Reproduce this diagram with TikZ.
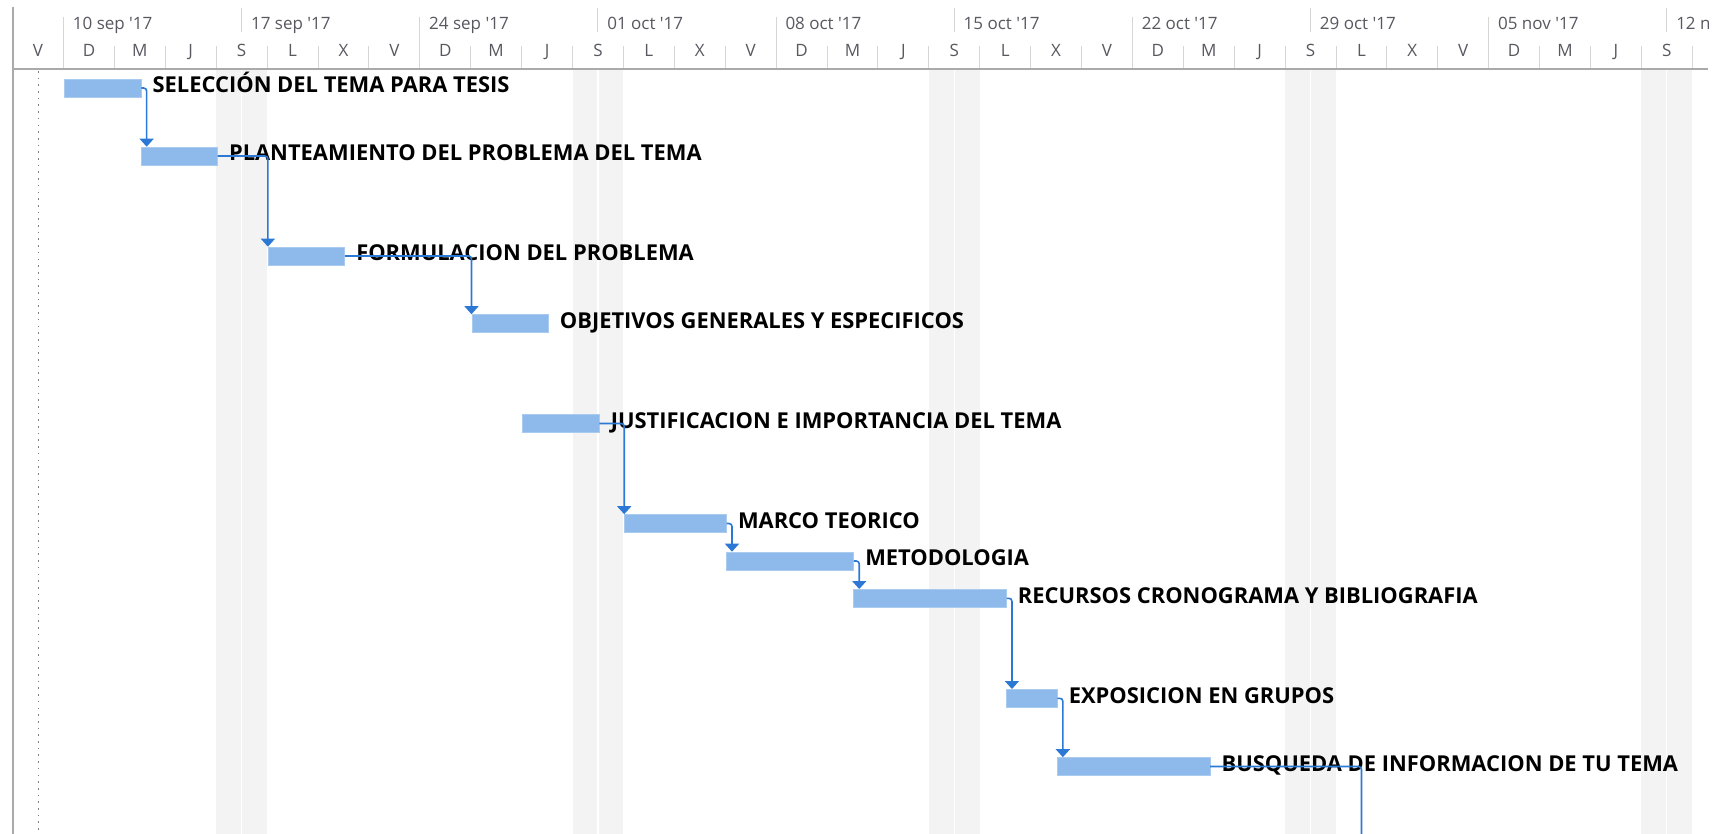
\documentclass[tikz,border=0pt]{standalone}
\usepackage{fontspec}
\usepackage{tikz}
\usepackage{xcolor}
\usetikzlibrary{math, arrows.meta}

\newfontfamily\ganttfont{Open Sans}

\definecolor{barblue}{RGB}{141,186,234}
\definecolor{linkblue}{RGB}{43,121,213}
\definecolor{gridgray}{RGB}{214,214,214}
\definecolor{framegray}{RGB}{170,170,170}
\definecolor{headgray}{RGB}{88,88,96}
\definecolor{shadegray}{RGB}{243,243,243}

\begin{document}
\begin{tikzpicture}[x=0.5pt, y=-0.5pt,
  bar/.style={fill=barblue, draw=barblue!75!white, line width=0.3pt, minimum height=9pt, inner sep=0pt, anchor=west},
  task/.style={font=\ganttfont\bfseries\fontsize{10.95}{12}\selectfont, text height=7.8pt, text depth=0pt, inner sep=0pt, anchor=west},
  head/.style={font=\ganttfont\fontsize{8.5}{10}\selectfont, text=headgray, inner sep=0pt},
  link/.style={linkblue, line width=0.8pt, rounded corners=1.5pt, -{Triangle[width=7pt, length=4pt]}}
]

\tikzmath{
\dw = 25.45;
\xzero = 63.5;
\xleft = 12.7;
\xend = 1708;
\ytop = 69;
\ybot = 834;
}

\fill[white] (0,0) rectangle (1724,834);
\useasboundingbox (0,0) rectangle (1724,834);

% weekends that fill a whole column
\foreach \d in {6, 20, 34, 48, 62}
{
   \fill[shadegray] ({\xzero + \d*\dw}, \ytop) rectangle ({\xzero + (\d+1)*\dw - 0.6}, \ybot);
   \fill[shadegray] ({\xzero + (\d+1)*\dw + 0.6}, \ytop) rectangle ({\xzero + (\d+2)*\dw}, \ybot);
}

\begin{scope}
\clip (\xleft, 0) rectangle (\xend, \ybot);

% column ticks
\foreach \k in {1, ..., 33}
   \draw[gridgray, line width=0.5pt] ({\xzero + (2*\k-2)*\dw}, 46) -- ({\xzero + (2*\k-2)*\dw}, \ytop);

% day letters
\foreach \l [count=\k from 0] in {V,D,M,J,S,L,X,V,D,M,J,S,L,X,V,D,M,J,S,L,X,V,D,M,J,S,L,X,V,D,M,J,S}
   \node[head, anchor=base] (day\k) at ({\xzero + (2*\k-1)*\dw}, 57) {\l};

% weeks
\foreach \txt [count=\i from 0] in {10 sep \textquotesingle17, 17 sep \textquotesingle17, 24 sep \textquotesingle17, 01 oct \textquotesingle17, 08 oct \textquotesingle17, 15 oct \textquotesingle17, 22 oct \textquotesingle17, 29 oct \textquotesingle17, 05 nov \textquotesingle17, 12 n}
{
   \pgfmathsetmacro{\wx}{\xzero + 7*\i*\dw}
   \ifodd\i
      \draw[gridgray, line width=0.5pt] (\wx, 8) -- (\wx, 32);
   \else
      \draw[gridgray, line width=0.5pt] (\wx, 17) -- (\wx, 46);
   \fi
   \node[head, anchor=base west] (wk\i) at (\wx + 9, 30) {\txt};
}
\end{scope}

\draw[framegray, line width=1pt] (\xleft, 7) -- (\xleft, \ybot);
\draw[framegray, line width=1pt] (\xleft, \ytop) -- (\xend, \ytop);
%\draw[framegray] (\xend, 7) -- (\xend, \ybot);
\draw[gray, line width=0.8pt, dash pattern=on 0.8pt off 2.55pt] (38.3, \ytop + 2) -- (38.3, \ybot);

\foreach \n/\s/\e/\y/\txt in {
   1/0/3/88/SELECCIÓN DEL TEMA PARA TESIS,
   2/3/6/156/PLANTEAMIENTO DEL PROBLEMA DEL TEMA,
   3/8/11/256/FORMULACION DEL PROBLEMA,
   4/16/19/323.5/OBJETIVOS GENERALES Y ESPECIFICOS,
   5/18/21/423.5/JUSTIFICACION E IMPORTANCIA DEL TEMA,
   6/22/26/523.5/MARCO TEORICO,
   7/26/31/561/METODOLOGIA,
   8/31/37/598.3/RECURSOS CRONOGRAMA Y BIBLIOGRAFIA,
   9/37/39/698.3/EXPOSICION EN GRUPOS,
   10/39/45/766.5/BUSQUEDA DE INFORMACION DE TU TEMA}
{
   \node[bar, minimum width={(\e-\s)*\dw*0.5pt}] (b\n) at ({\xzero + \s*\dw + 0.8}, \y) {};
   \node[task] (t\n) at ([xshift=5.5pt, yshift=1.5pt]b\n.east) {\txt};
}

\draw[link] (b1.east) -| ([xshift=3pt]b2.north west);
\draw[link] (b2.east) -| (b3.north west);
\draw[link] (b3.east) -| (b4.north west);
\draw[link] (b5.east) -| (b6.north west);
\draw[link] (b6.east) -| ([xshift=3pt]b7.north west);
\draw[link] (b7.east) -| ([xshift=3pt]b8.north west);
\draw[link] (b8.east) -| ([xshift=3pt]b9.north west);
\draw[link] (b9.east) -| ([xshift=3pt]b10.north west);
\coordinate (next) at ({\xzero + 51*\dw}, \ybot);
\draw[link, -] (b10.east) -| (next);

\end{tikzpicture}
\end{document}
